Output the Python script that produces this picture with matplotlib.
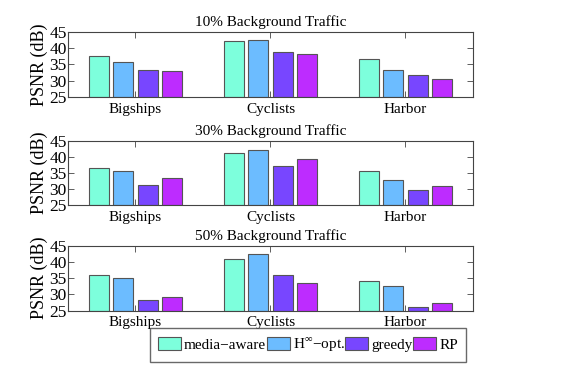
import numpy as np
import matplotlib
matplotlib.use('Agg')
import matplotlib.pyplot as plt

plt.rcParams['font.family'] = ['Liberation Serif', 'DejaVu Serif']
plt.rcParams['mathtext.fontset'] = 'custom'
plt.rcParams['mathtext.rm'] = 'Liberation Serif'

# Data
videos = ['Bigships', 'Cyclists', 'Harbor']
schemes = ['media\u2212aware', r'H$^{\infty}$$-$opt.', 'greedy', 'RP']
colors = ['#7dffdc', '#6cbcff', '#7846ff', '#bd2cff']
titles = ['10% Background Traffic', '30% Background Traffic', '50% Background Traffic']

psnr_10 = [[37.5, 42.2, 36.6],
           [35.7, 42.5, 33.2],
           [33.2, 38.8, 31.6],
           [33.0, 38.2, 30.5]]
psnr_30 = [[36.6, 41.3, 35.5],
           [35.5, 42.3, 32.9],
           [31.3, 37.2, 29.7],
           [33.4, 39.5, 30.9]]
psnr_50 = [[35.9, 40.9, 34.1],
           [35.1, 42.3, 32.7],
           [28.2, 36.0, 26.0],
           [29.3, 33.4, 27.3]]
panels = [psnr_10, psnr_30, psnr_50]

fig = plt.figure(figsize=(5.81, 3.66), dpi=100)
boxes = [[0.117, 0.735, 0.697, 0.178],
         [0.117, 0.440, 0.697, 0.175],
         [0.117, 0.151, 0.697, 0.178]]

x = np.arange(1, len(videos) + 1)
step = 0.182
width = 0.148
edge = '#555555'
bars = []
for box, data, title in zip(boxes, panels, titles):
    ax = fig.add_axes(box)
    bars = []
    for i, vals in enumerate(data):
        b = ax.bar(x + (i - 1.5) * step, np.array(vals) - 25, width, bottom=25,
                   color=colors[i], edgecolor=edge, linewidth=0.8, label=schemes[i])
        bars.append(b)
    ax.set_xlim(0.5, 3.5)
    ax.set_ylim(25, 45)
    ax.set_yticks([25, 30, 35, 40, 45])
    ax.set_xticks(x)
    ax.set_xticklabels(videos, fontsize=11)
    ax.tick_params(axis='y', labelsize=12.5, pad=1)
    ax.tick_params(direction='in', top=True, right=True, length=4, width=0.6, color='#444444')
    ax.tick_params(axis='x', pad=4)
    for s in ax.spines.values():
        s.set_color('#444444')
        s.set_linewidth(0.8)
    ax.set_title(title, fontsize=11, pad=4)
    ax.set_ylabel('PSNR (dB)', fontsize=13, labelpad=1)

fig.legend(bars, schemes, loc='center', bbox_to_anchor=(0.53, 0.058), ncol=4,
           prop={'family': 'Liberation Serif', 'size': 11},
           frameon=True, fancybox=False, edgecolor='#444444',
           handlelength=1.5, handleheight=1.0, handletextpad=0.2,
           columnspacing=0.05, borderpad=0.5, borderaxespad=0)

fig.savefig('out.png', dpi=100)
